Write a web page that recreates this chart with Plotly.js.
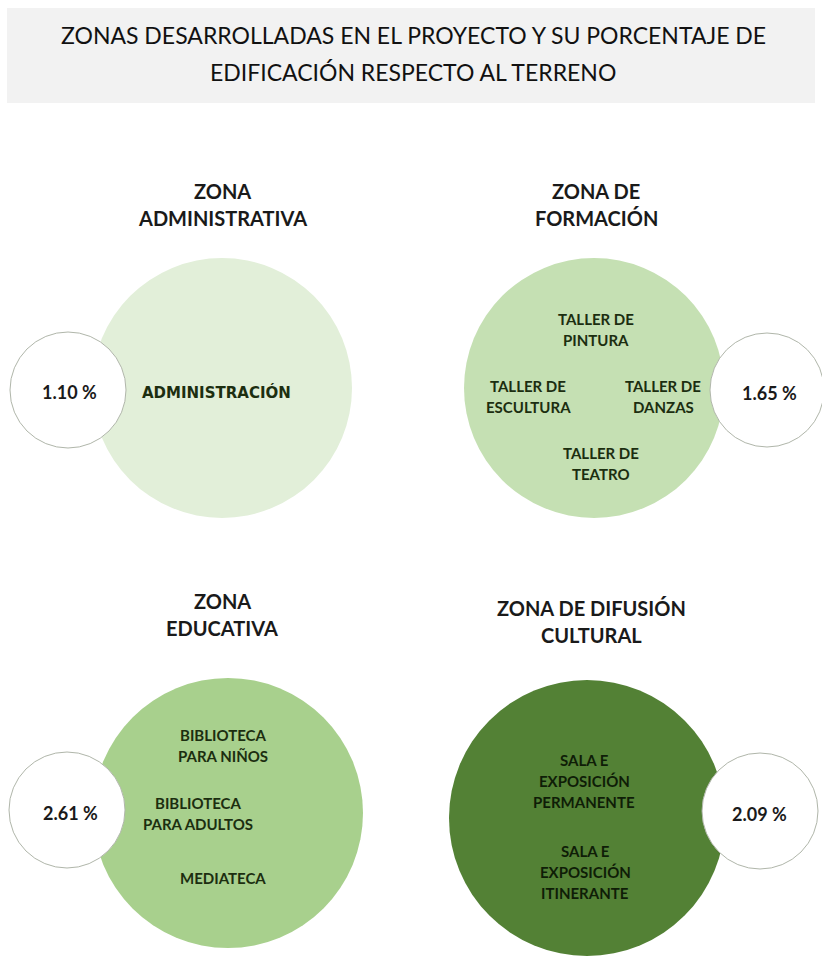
<!DOCTYPE html>
<html><head><meta charset="utf-8">
<script src="https://cdn.plot.ly/plotly-3.0.1.min.js"></script>
<style>html,body{margin:0;padding:0;background:#fff}</style>
</head><body><div id="chart" style="width:822px;height:958px"></div>
<script>
// ---------- DATA ----------
const chartTitle = ["ZONAS DESARROLLADAS EN EL PROYECTO Y SU PORCENTAJE DE", "EDIFICACIÓN RESPECTO AL TERRENO"];
const zoneNames = ["ZONA<br>ADMINISTRATIVA", "ZONA DE<br>FORMACIÓN", "ZONA<br>EDUCATIVA", "ZONA DE DIFUSIÓN<br>CULTURAL"];
const buildPercent = [1.10, 1.65, 2.61, 2.09];
const subzones = [
  ["ADMINISTRACIÓN"],
  ["TALLER DE<br>PINTURA", "TALLER DE<br>ESCULTURA", "TALLER DE<br>DANZAS", "TALLER DE<br>TEATRO"],
  ["BIBLIOTECA<br>PARA NIÑOS", "BIBLIOTECA<br>PARA ADULTOS", "MEDIATECA"],
  ["SALA E<br>EXPOSICIÓN<br>PERMANENTE", "SALA E<br>EXPOSICIÓN<br>ITINERANTE"]
];

// ---------- LAYOUT / STYLE (positions in axis units = px) ----------
const bigCircles = [{cx:222,cy:388,r:130},{cx:594,cy:388,r:130},{cx:228,cy:813,r:135},{cx:587,cy:818,r:138}];
const fills = ["#e2efd9","#c5e0b3","#a8d08d","#538135"];
const smallCircles = [{cx:68,cy:390,r:58},{cx:767,cy:390,r:57},{cx:67,cy:810,r:58},{cx:760,cy:811,r:58}];
const pctPos = [{x:69,y:392},{x:769,y:393},{x:70,y:813},{x:759,y:814}];
const zoneTitlePos = [{x:222,y:204},{x:596,y:204},{x:222,y:614},{x:591,y:621}];
const subPos = [
  [{x:216,y:392}],
  [{x:596,y:329},{x:528,y:396},{x:663,y:396},{x:601,y:463}],
  [{x:223,y:745},{x:198,y:813},{x:223,y:878}],
  [{x:584,y:781},{x:585,y:872}]
];

const FONT = "Lato, 'Open Sans', sans-serif";
const shapes = [];
const annotations = [];

function addLines(text, x, y, spacing, font) {
  const lines = text.split("<br>");
  const n = lines.length;
  lines.forEach((ln, i) => {
    annotations.push({
      xref:'x', yref:'y', x:x, y: y + (i - (n-1)/2) * spacing,
      text: ln, showarrow:false, xanchor:'center', yanchor:'middle',
      font: font
    });
  });
}

// title box
shapes.push({type:'rect', xref:'x', yref:'y', x0:7, x1:815, y0:8, y1:103,
  fillcolor:'#f2f2f2', line:{width:0}, layer:'below'});
addLines(chartTitle.join("<br>"), 413, 53, 37, {family:FONT, size:23, color:'#111111'});

zoneNames.forEach((z, i) => {
  const b = bigCircles[i];
  shapes.push({type:'circle', xref:'x', yref:'y', x0:b.cx-b.r, x1:b.cx+b.r, y0:b.cy-b.r, y1:b.cy+b.r,
    fillcolor:fills[i], line:{width:0}});
  const s = smallCircles[i];
  shapes.push({type:'circle', xref:'x', yref:'y', x0:s.cx-s.r, x1:s.cx+s.r, y0:s.cy-s.r, y1:s.cy+s.r,
    fillcolor:'#ffffff', line:{width:1, color:'#b0b6aa'}});
  addLines(z, zoneTitlePos[i].x, zoneTitlePos[i].y, 27, {family:FONT, size:20, color:'#1a1a1a', weight:'bold'});
  addLines(buildPercent[i].toFixed(2) + " %", pctPos[i].x, pctPos[i].y, 20, {family:FONT, size:18, color:'#1a1a1a', weight:'bold'});
  subzones[i].forEach((t, j) => {
    const p = subPos[i][j];
    const fam = (i === 0) ? "'DejaVu Sans', sans-serif" : FONT;
    const sz = (i === 0) ? 15 : 15;
    addLines(t, p.x, p.y, 21, {family:fam, size:sz, color: i===3 ? '#0f1d07' : '#1c2e10', weight:'bold'});
  });
});

const layout = {
  width:822, height:958, margin:{l:0,r:0,t:0,b:0},
  paper_bgcolor:'#ffffff', plot_bgcolor:'#ffffff',
  xaxis:{range:[0,822], visible:false, fixedrange:true},
  yaxis:{range:[958,0], visible:false, fixedrange:true},
  shapes: shapes, annotations: annotations, showlegend:false
};
Plotly.newPlot('chart', [], layout, {displayModeBar:false, staticPlot:true});
</script>
</body></html>
